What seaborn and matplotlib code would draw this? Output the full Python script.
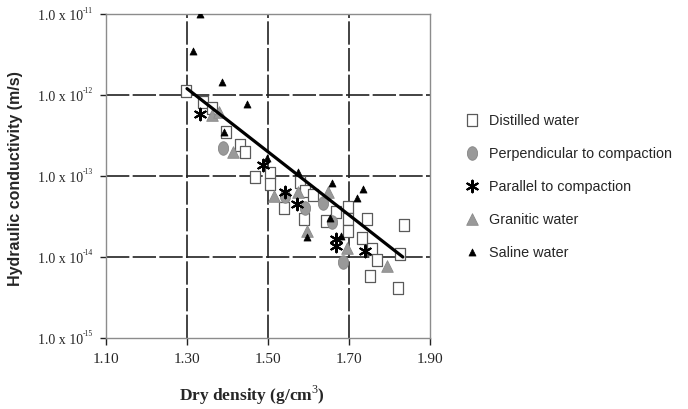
import numpy as np
import pandas as pd
import matplotlib
matplotlib.use("Agg")
import matplotlib.pyplot as plt
import matplotlib.transforms as mtransforms
import seaborn as sns

# values
distilled_x = [1.297, 1.340, 1.361, 1.396, 1.430, 1.443, 1.468, 1.505, 1.505, 1.579,
               1.591, 1.612, 1.540, 1.590, 1.642, 1.668, 1.698, 1.698, 1.698, 1.744,
               1.731, 1.756, 1.768, 1.752, 1.826, 1.836, 1.822]
distilled_y = [1.13e-12, 8.1e-13, 7.0e-13, 3.5e-13, 2.4e-13, 2.0e-13, 9.6e-14, 1.1e-13, 8.0e-14, 8.4e-14,
               6.6e-14, 5.8e-14, 4.0e-14, 2.95e-14, 2.8e-14, 3.6e-14, 4.1e-14, 2.95e-14, 2.1e-14, 2.95e-14,
               1.7e-14, 1.25e-14, 9.3e-15, 5.9e-15, 1.09e-14, 2.5e-14, 4.2e-15]

perp_x = [1.390, 1.542, 1.591, 1.637, 1.657, 1.686]
perp_y = [2.2e-13, 5.7e-14, 4.0e-14, 4.7e-14, 2.7e-14, 8.7e-15]

par_x = [1.332, 1.488, 1.542, 1.571, 1.668, 1.668, 1.740]
par_y = [5.8e-13, 1.35e-13, 6.3e-14, 4.5e-14, 1.67e-14, 1.38e-14, 1.2e-14]

gran_x = [1.361, 1.380, 1.414, 1.515, 1.575, 1.647, 1.596, 1.694, 1.795]
gran_y = [5.6e-13, 6.2e-13, 2.0e-13, 5.7e-14, 6.3e-14, 6.3e-14, 2.1e-14, 1.3e-14, 7.8e-15]

saline_x = [1.332, 1.314, 1.387, 1.447, 1.497, 1.575, 1.659, 1.735, 1.719, 1.653,
            1.596, 1.681, 1.392]
saline_y = [1.0e-11, 3.5e-12, 1.46e-12, 7.7e-13, 1.65e-13, 1.11e-13, 8.2e-14, 7.0e-14, 5.3e-14, 3.0e-14,
            1.75e-14, 1.8e-14, 3.5e-13]

fit_x = [1.30, 1.833]
fit_y = [1.2e-12, 1.0e-14]

x_ticks = [1.10, 1.30, 1.50, 1.70, 1.90]
y_ticks = [1e-15, 1e-14, 1e-13, 1e-12, 1e-11]
y_exponents = ["-15", "-14", "-13", "-12", "-11"]

sns.set_style("white")
plt.rcParams["mathtext.fontset"] = "custom"
plt.rcParams["mathtext.rm"] = "Liberation Serif"

# marker shapes: tall box and tall ellipse like the scanned figure
t = np.linspace(0, 2 * np.pi, 40)
ellipse = np.column_stack([0.75 * np.cos(t), np.sin(t)])
tall_box = [(-0.8, -1), (0.8, -1), (0.8, 1), (-0.8, 1), (-0.8, -1)]

fig = plt.figure(figsize=(6.88, 4.10), dpi=100)
ax = fig.add_axes([106 / 688, 71 / 410, 324 / 688, 324 / 410])
ax.set_yscale("log")

sns.scatterplot(x=distilled_x, y=distilled_y, ax=ax, marker=tall_box, s=75, color="white",
                edgecolor="#5a5a5a", linewidth=0.9, label="Distilled water", zorder=3)
sns.scatterplot(x=perp_x, y=perp_y, ax=ax, marker=ellipse, s=95, color="#999999",
                edgecolor="#858585", linewidth=0.6, label="Perpendicular to compaction", zorder=3)
sns.scatterplot(x=gran_x, y=gran_y, ax=ax, marker="^", s=70, color="#999999",
                edgecolor="#8a8a8a", linewidth=0.6, label="Granitic water", zorder=3)
sns.scatterplot(x=par_x, y=par_y, ax=ax, marker=(6, 2, 0), s=70, color="black",
                linewidth=1.5, label="Parallel to compaction", zorder=4)
sns.lineplot(x=fit_x, y=fit_y, ax=ax, color="black", linewidth=2.3, zorder=5)
sns.scatterplot(x=saline_x, y=saline_y, ax=ax, marker="^", s=26, color="black",
                edgecolor="black", linewidth=0.5, label="Saline water", zorder=6)

if ax.get_legend() is not None:
    ax.get_legend().remove()

ax.set_xlim(1.10, 1.90)
ax.set_ylim(1e-15, 1e-11)
ax.set_xticks(x_ticks)
ax.set_xticklabels([f"{v:.2f}" for v in x_ticks], family="Liberation Serif", fontsize=11)
ax.set_yticks(y_ticks)
ax.set_yticklabels(["1.0 x 10"] * len(y_ticks), family="Liberation Serif", fontsize=10)
ax.minorticks_off()
ax.tick_params(axis="x", direction="out", length=5, width=1, color="#222222", pad=5, bottom=True)
ax.tick_params(axis="y", direction="out", length=4.5, width=1, color="#222222", pad=12, left=True)

# small exponents next to the y tick labels
exp_tr = mtransforms.offset_copy(ax.get_yaxis_transform(), fig=fig, x=-23, y=4.5, units="dots")
for yv, ex in zip(y_ticks, y_exponents):
    ax.text(0, yv, ex, transform=exp_tr, family="Liberation Serif", fontsize=5.5,
            ha="left", va="center", clip_on=False)

for s in ax.spines.values():
    s.set_color("#8c8c8c")
    s.set_linewidth(1.0)

for xv in x_ticks[1:-1]:
    ax.axvline(xv, color="#222222", linestyle=(0, (14, 2)), linewidth=1.2, zorder=1)
for yv in y_ticks[1:-1]:
    ax.axhline(yv, color="#222222", linestyle=(0, (14, 2)), linewidth=1.2, zorder=1)

ax.set_xlabel("")
ax.set_ylabel("")
fig.text(252 / 688, 1 - 395 / 410, "Dry density (g/cm$^{3}$)", family="Liberation Serif",
         fontweight="bold", fontsize=12.5, ha="center", va="center")
fig.text(16 / 688, 1 - 179 / 410, "Hydraulic conductivity (m/s)", family="Liberation Sans",
         fontweight="bold", fontsize=11.5, ha="center", va="center", rotation=90)

handles, labels = ax.get_legend_handles_labels()
order = ["Distilled water", "Perpendicular to compaction", "Parallel to compaction",
         "Granitic water", "Saline water"]
hmap = dict(zip(labels, handles))
fig.legend([hmap[k] for k in order], order, loc="upper left",
           bbox_to_anchor=(465 / 688, 1 - 114 / 410), frameon=False,
           prop={"family": "Liberation Sans", "size": 10.4}, handlelength=1.0,
           handletextpad=0.65, labelspacing=1.32, borderpad=0, borderaxespad=0)

fig.savefig("out.png", dpi=100)
